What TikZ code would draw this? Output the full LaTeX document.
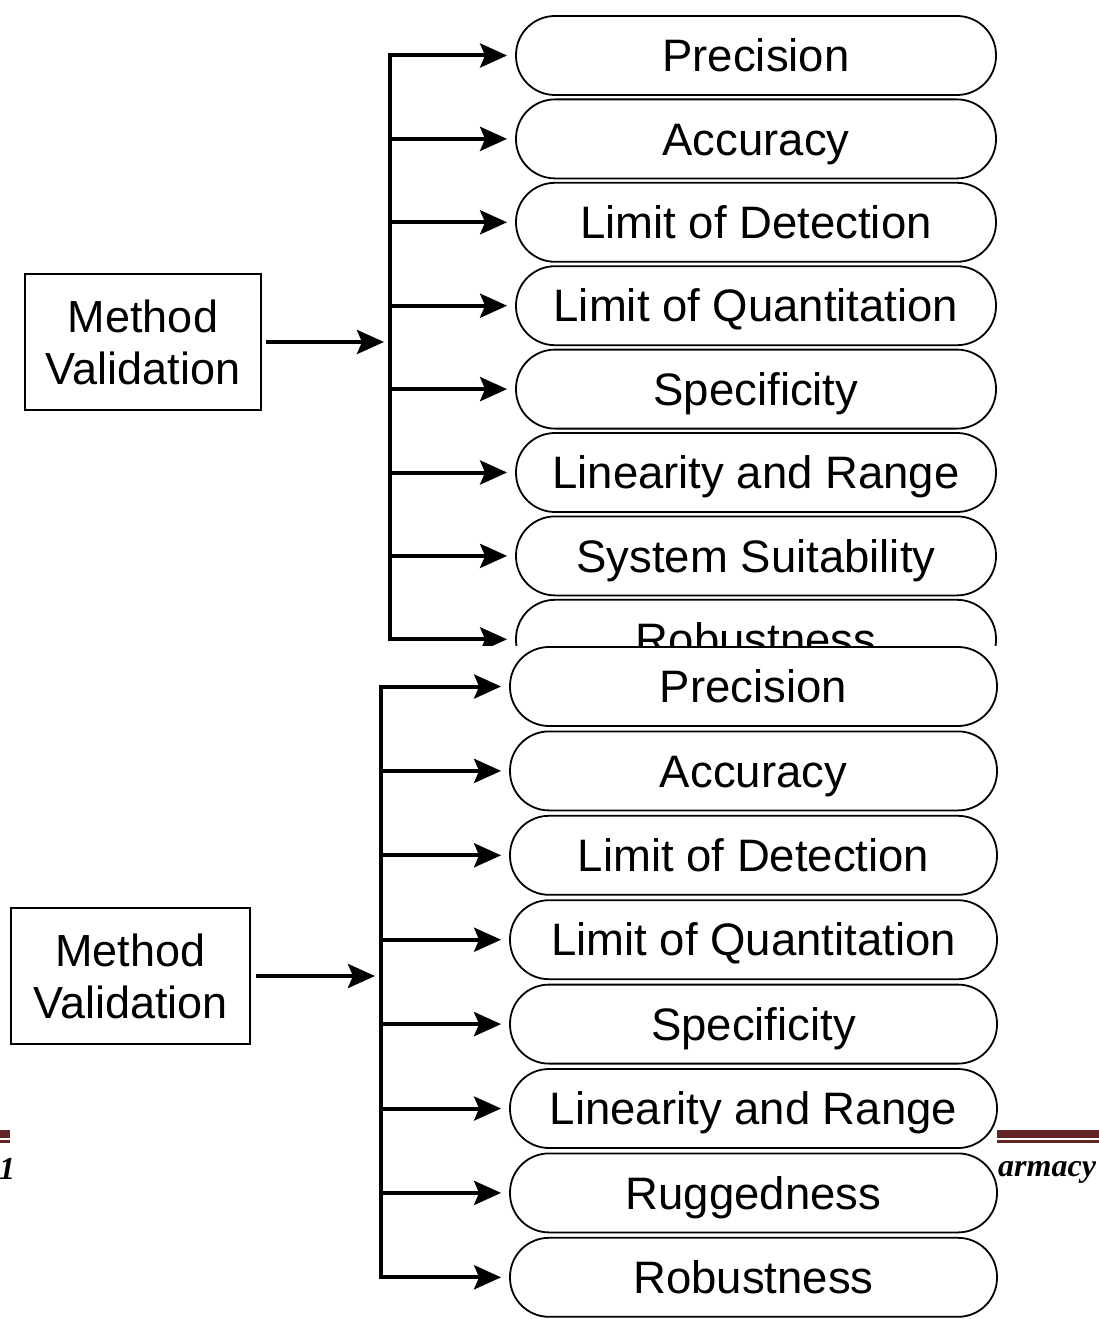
\documentclass[tikz,border=0pt]{standalone}
\usepackage{fontspec}
\setmainfont{Liberation Sans}
\newfontfamily\footfont{Liberation Serif}
\usetikzlibrary{arrows.meta}
\definecolor{footred}{RGB}{99,36,35}
\tikzset{
	pill/.style={draw,line width=1.8pt,rounded corners=39pt,minimum height=79pt,inner sep=0pt,text height=32.5pt,text depth=0pt,font=\fontsize{45.5}{52}\selectfont},
	mvbox/.style={draw,line width=1.8pt,minimum height=136pt,inner sep=0pt,align=center,font=\fontsize{45}{52}\selectfont},
	feed/.style={line width=4pt,-{Stealth[length=27pt,width=24pt,inset=5pt]}},
	bus/.style={line width=4pt,line cap=rect},
	foot/.style={inner sep=0pt,font=\footfont\bfseries\itshape\fontsize{32}{32}\selectfont}
}
\begin{document}
\begin{tikzpicture}[x=1pt,y=-1pt,line join=miter]
	\useasboundingbox (0,0) rectangle (1099,1319);
	% upper copy, cut off by the lower one
	\begin{scope}
		\clip (0,0) rectangle (1099,645);
		\node[mvbox,minimum width=236pt] (mvA) at (143,342) {Method\\Validation};
		\foreach \t [count=\i] in {Precision,Accuracy,Limit of Detection,Limit of Quantitation,Specificity,Linearity and Range,System Suitability,Robustness}{
			\node[pill,minimum width=480pt] (pA\i) at (756,{55.5+83.4*(\i-1)}) {\t};
			\coordinate (bA\i) at (390,{55.5+83.4*(\i-1)});
			\draw[feed,shorten >=8pt] (bA\i) -- (pA\i.west);
		}
		\draw[bus] (bA1) -- (bA8);
		\coordinate (jA) at (390,342);
		\draw[feed,shorten <=4pt,shorten >=6pt] (mvA.east) -- (jA);
	\end{scope}
	% page footer showing at the edges
	\fill[footred] (0,1130) rectangle (10,1138);
	\fill[footred] (0,1140) rectangle (10,1143);
	\fill[footred] (997,1130) rectangle (1099,1138);
	\fill[footred] (997,1140) rectangle (1099,1143);
	\node[foot,anchor=base west] (pgL) at (-1,1179) {1};
	\node[foot,anchor=base west] (pgR) at (998,1176) {armacy};
	% lower copy
	\node[mvbox,minimum width=239pt] (mvB) at (130.5,976) {Method\\Validation};
	\foreach \t [count=\i] in {Precision,Accuracy,Limit of Detection,Limit of Quantitation,Specificity,Linearity and Range,Ruggedness,Robustness}{
		\node[pill,minimum width=487pt] (pB\i) at (753.5,{686.5+84.4*(\i-1)}) {\t};
		\coordinate (bB\i) at (381,{686.5+84.4*(\i-1)});
		\draw[feed,shorten >=8pt] (bB\i) -- (pB\i.west);
	}
	\draw[bus] (bB1) -- (bB8);
	\coordinate (jB) at (381,976);
	\draw[feed,shorten <=5pt,shorten >=6pt] (mvB.east) -- (jB);
\end{tikzpicture}
\end{document}
